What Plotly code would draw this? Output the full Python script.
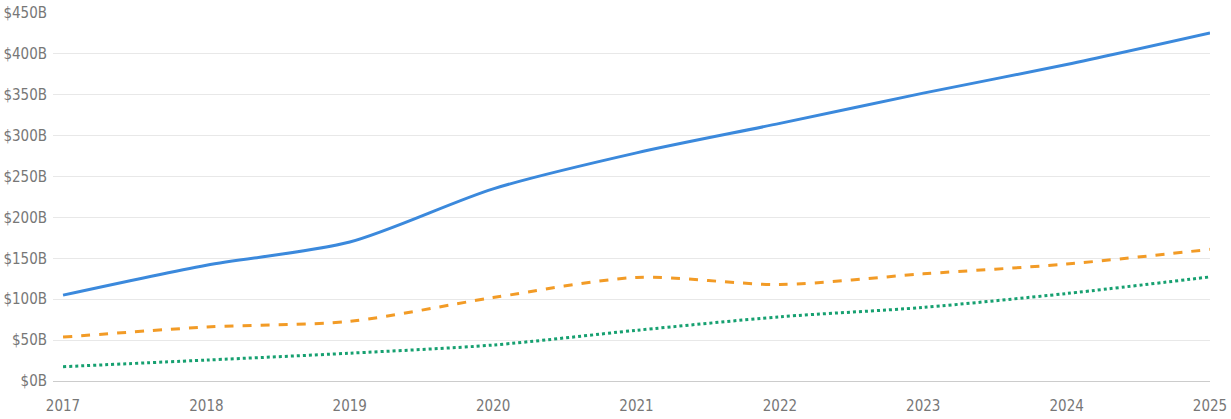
import plotly.graph_objects as go

years = [2017, 2018, 2019, 2020, 2021, 2022, 2023, 2024, 2025]
series_a = [105, 141.6, 170, 235, 279, 315, 352, 387, 425.6]
series_b = [53.7, 66, 73, 102, 126.6, 118, 131, 143, 161]
series_c = [17.5, 25.6, 34, 44, 62, 78.5, 90, 107, 127.3]
y_ticks = [0, 50, 100, 150, 200, 250, 300, 350, 400, 450]
y_labels = ["$0B", "$50B", "$100B", "$150B", "$200B", "$250B", "$300B", "$350B", "$400B", "$450B"]

FONT = "Source Sans Pro, Liberation Sans Narrow, DejaVu Sans Condensed, Noto Sans"

fig = go.Figure()
fig.add_trace(go.Scatter(x=years, y=series_a, mode="lines",
                         line=dict(color="#3b89dc", width=3, shape="spline", smoothing=0.8)))
fig.add_trace(go.Scatter(x=years, y=series_b, mode="lines",
                         line=dict(color="#f29b26", width=3, dash="dash", shape="spline", smoothing=0.8)))
fig.add_trace(go.Scatter(x=years, y=series_c, mode="lines",
                         line=dict(color="#16a070", width=3, dash="dot", shape="spline", smoothing=0.8)))

fig.update_layout(
    width=1231, height=419,
    margin=dict(l=53, r=21, t=13, b=38),
    paper_bgcolor="white", plot_bgcolor="white",
    showlegend=False,
    font=dict(family=FONT, size=15, color="#777777"),
)
fig.update_xaxes(range=[2016.93, 2025], tickvals=years, ticktext=[str(y) for y in years],
                 showgrid=False, zeroline=False, showline=True, linecolor="#cccccc", linewidth=1,
                 ticks="", automargin=False, ticklabelstandoff=11,
                 tickfont=dict(family=FONT, size=15, color="#777777"))
fig.update_yaxes(range=[0, 450], tickvals=y_ticks, ticktext=y_labels,
                 showgrid=True, gridcolor="#e8e8e8", gridwidth=1, zeroline=False,
                 ticks="", automargin=False, ticklabelstandoff=5,
                 tickfont=dict(family=FONT, size=15, color="#777777"))

fig.write_html("out.html")
